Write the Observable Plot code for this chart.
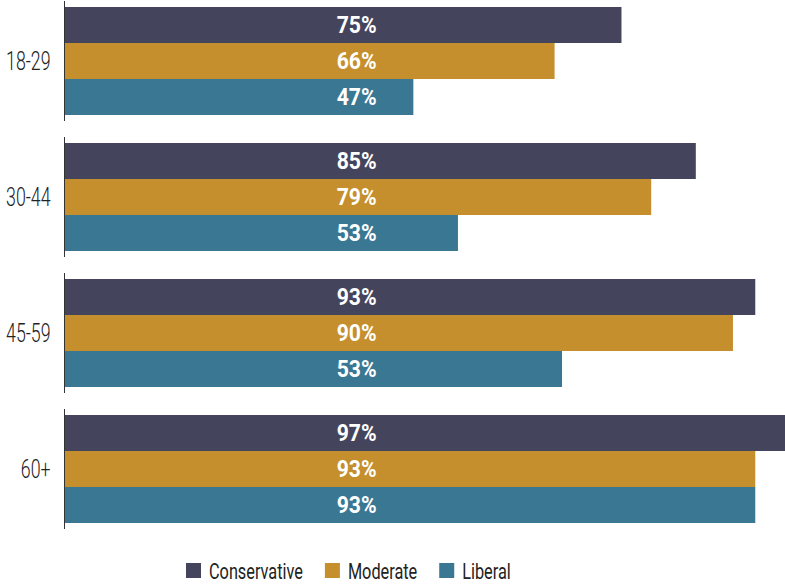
<!DOCTYPE html>
<html>
<head>
<meta charset="utf-8">
<script src="https://cdn.jsdelivr.net/npm/d3@7"></script>
<script src="https://cdn.jsdelivr.net/npm/@observablehq/plot@0.6"></script>
<style>
  html, body { margin: 0; padding: 0; background: #fff; }
  body { width: 785px; height: 584px; overflow: hidden; }
  svg { display: block; }
</style>
</head>
<body>
<div id="chart"></div>
<div id="legend"></div>
<script>
const groups = ["18-29", "30-44", "45-59", "60+"];
const series = ["Conservative", "Moderate", "Liberal"];
const colors = ["#45445d", "#c58f2d", "#3a7793"];
const conservative = [75, 85, 93, 97];
const moderate = [66, 79, 90, 93];
const liberal = [47, 53, 67, 93];
const conservativeLabels = ["75%", "85%", "93%", "97%"];
const moderateLabels = ["66%", "79%", "90%", "93%"];
const liberalLabels = ["47%", "53%", "53%", "93%"];
const labelX = 39.3;

const seriesValues = [conservative, moderate, liberal];
const seriesLabels = [conservativeLabels, moderateLabels, liberalLabels];
const data = [];
groups.forEach((g, gi) => {
  series.forEach((s, si) => {
    data.push({group: g, series: s, value: seriesValues[si][gi], label: seriesLabels[si][gi]});
  });
});

const font = 'Roboto, "Liberation Sans", sans-serif';

const chart = Plot.plot({
  width: 785,
  height: 530,
  marginTop: 0,
  marginBottom: 1,
  marginLeft: 64,
  marginRight: 0,
  style: {fontFamily: font, fontSize: "25px", fontWeight: 300, color: "#222", background: "#fff"},
  x: {domain: [0, 97], axis: null},
  y: {domain: series, axis: null, paddingInner: 0, paddingOuter: 0.156},
  fy: {domain: groups, paddingInner: 0.12, paddingOuter: 0, label: null, tickSize: 0, tickPadding: 14, axis: "left"},
  color: {domain: series, range: colors},
  marks: [
    Plot.barX(data, {fy: "group", y: "series", x: "value", fill: "series"}),
    Plot.text(data, {fy: "group", y: "series", x: () => labelX, text: "label", fill: "white", fontWeight: "bold", fontSize: 23}),
    Plot.ruleX([0], {stroke: "#333", strokeWidth: 1})
  ]
});
document.getElementById("chart").appendChild(chart);

// condense text horizontally (reference uses a condensed typeface)
function condense(el, r) {
  const w = el.getComputedTextLength();
  el.setAttribute("textLength", (w * r).toFixed(2));
  el.setAttribute("lengthAdjust", "spacingAndGlyphs");
  return w * r;
}
chart.querySelectorAll("text").forEach(el => {
  const isLabel = el.closest("g") && (el.closest("g").getAttribute("fill") === "white");
  condense(el, isLabel ? 0.92 : 0.71);
});

// legend
const lsvg = d3.select("#legend").append("svg")
  .attr("width", 785).attr("height", 54)
  .style("font-family", font).style("font-size", "22px");
let x0 = 186;
series.forEach((s, i) => {
  lsvg.append("rect").attr("x", x0).attr("y", 33).attr("width", 15).attr("height", 15).attr("fill", colors[i]);
  const t = lsvg.append("text").attr("x", x0 + 23).attr("y", 48.5).attr("fill", "#222").text(s);
  const w = condense(t.node(), 0.74);
  x0 += 23 + w + 22;
});
</script>
</body>
</html>
